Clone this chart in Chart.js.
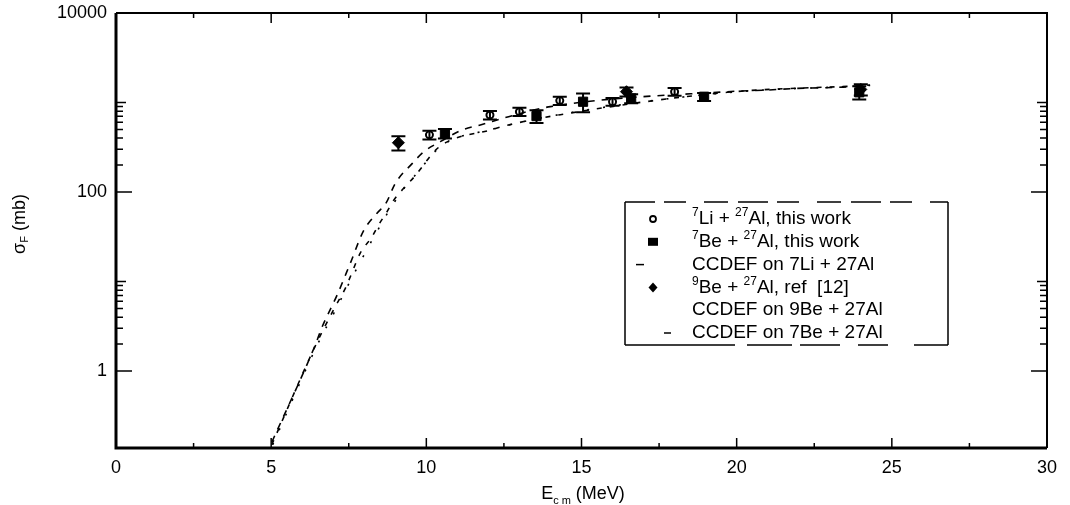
<!DOCTYPE html>
<html>
<head>
<meta charset="utf-8">
<script src="https://cdn.jsdelivr.net/npm/chart.js@4.4.1/dist/chart.umd.min.js"></script>
<style>
  html, body { margin: 0; padding: 0; background: #fff; }
  canvas { display: block; }
</style>
</head>
<body>
<canvas id="chart" width="1070" height="505" style="width:1070px;height:505px"></canvas>
<script>
// values (E in MeV, sigma in mb)
const li7E = [10.1, 12.05, 13.0, 14.3, 16.0, 18.0];
const li7Sig = [435, 725, 790, 1050, 1020, 1320];
const li7Err = [50, 80, 85, 110, 100, 130];

const be7E = [10.6, 13.55, 15.05, 16.6, 18.95, 23.95];
const be7Sig = [450, 705, 1020, 1110, 1160, 1300];
const be7Err = [55, 115, 240, 130, 120, 220];

const be9E = [9.1, 16.45, 24.0];
const be9Sig = [355, 1320, 1400];
const be9Err = [65, 150, 200];

// CCDEF calculations
const ccLiE = [5.02, 6.42, 6.64, 7.12, 7.55, 7.98, 8.41, 8.7, 9.0, 9.55, 9.91, 10.45, 11.15, 11.74, 12.65, 14.0, 19.68, 21.03, 21.96, 23.3, 24.3];
const ccLiSig = [0.16, 1.95, 3.1, 7.0, 16, 37, 58, 75, 125, 209, 280, 365, 493, 561, 694, 900, 1320, 1380, 1440, 1480, 1570];

const ccBe7E = [5.02, 6.42, 7.06, 7.39, 7.55, 7.87, 8.25, 8.46, 8.73, 8.95, 9.27, 9.59, 10.42, 12.06, 12.65, 14.32, 19.7, 24.3];
const ccBe7Sig = [0.15, 1.9, 5.2, 8.4, 11.3, 20.7, 31.7, 42.8, 60, 81, 110, 145, 320, 493, 561, 731, 1300, 1550];

const ccBe9E = [5.05, 6.5, 7.1, 7.6, 8.3, 8.8, 9.3, 9.6, 10.5, 12.1, 14.3, 19.7, 24.3];
const ccBe9Sig = [0.15, 2.0, 5.0, 11, 31, 62, 112, 148, 330, 500, 735, 1290, 1540];

// axis ticks
const xTicks = [0, 5, 10, 15, 20, 25, 30];
const xMinor = [2.5, 7.5, 12.5, 17.5, 22.5, 27.5];
const yLabels = [1, 100, 10000];
const yMid = [10, 1000];
const yMinor = [2, 3, 4, 5, 6, 7, 8, 9, 200, 300, 400, 500, 600, 700, 800, 900];

const FONT = '"Liberation Sans", Arial, Helvetica, sans-serif';

function pts(xs, ys) {
  return xs.map((x, i) => ({ x, y: ys[i] }));
}

// error bars drawn through the chart scales
const errorBars = {
  id: 'errorBars',
  afterDatasetsDraw(chart) {
    const { ctx, scales: { x, y } } = chart;
    ctx.save();
    ctx.strokeStyle = '#000';
    ctx.lineWidth = 2;
    chart.data.datasets.forEach(ds => {
      if (!ds.errors) return;
      ds.data.forEach((p, i) => {
        const px = x.getPixelForValue(p.x);
        const t = y.getPixelForValue(p.y + ds.errors[i]);
        const b = y.getPixelForValue(p.y - ds.errors[i]);
        ctx.beginPath();
        ctx.moveTo(px, t); ctx.lineTo(px, b);
        ctx.moveTo(px - 7, t); ctx.lineTo(px + 7, t);
        ctx.moveTo(px - 7, b); ctx.lineTo(px + 7, b);
        ctx.stroke();
      });
    });
    ctx.restore();
  }
};

function drawParts(ctx, parts, x, y) {
  parts.forEach(([t, s, dy]) => {
    ctx.font = s + 'px ' + FONT;
    ctx.fillText(t, x, y + dy);
    x += ctx.measureText(t).width;
  });
}
function partsWidth(ctx, parts) {
  let w = 0;
  parts.forEach(([t, s]) => { ctx.font = s + 'px ' + FONT; w += ctx.measureText(t).width; });
  return w;
}

// frame, inward tick marks, axis titles with sub/superscripts, legend box
const decorations = {
  id: 'decorations',
  afterDraw(chart) {
    const { ctx, chartArea: a, scales: { x, y } } = chart;
    ctx.save();
    ctx.strokeStyle = '#000';
    ctx.fillStyle = '#000';

    // frame
    ctx.lineWidth = 3;
    ctx.beginPath();
    ctx.moveTo(a.left, a.top); ctx.lineTo(a.left, a.bottom); ctx.lineTo(a.right, a.bottom);
    ctx.stroke();
    ctx.lineWidth = 2;
    ctx.beginPath();
    ctx.moveTo(a.left, a.top); ctx.lineTo(a.right, a.top); ctx.lineTo(a.right, a.bottom);
    ctx.stroke();

    // ticks
    ctx.lineWidth = 1.5;
    const vTick = (v, len) => {
      const py = y.getPixelForValue(v);
      ctx.beginPath();
      ctx.moveTo(a.left, py); ctx.lineTo(a.left + len, py);
      ctx.moveTo(a.right, py); ctx.lineTo(a.right - len, py);
      ctx.stroke();
    };
    const hTick = (v, len) => {
      const px = x.getPixelForValue(v);
      ctx.beginPath();
      ctx.moveTo(px, a.bottom); ctx.lineTo(px, a.bottom - len);
      ctx.moveTo(px, a.top); ctx.lineTo(px, a.top + len);
      ctx.stroke();
    };
    yLabels.forEach(v => vTick(v, 16));
    yMid.forEach(v => vTick(v, 10));
    yMinor.forEach(v => vTick(v, 7));
    xTicks.forEach(v => hTick(v, 10));
    xMinor.forEach(v => hTick(v, 5));

    // y title
    ctx.save();
    ctx.translate(20, 224);
    ctx.rotate(-Math.PI / 2);
    ctx.textBaseline = 'middle';
    const yParts = [['σ', 18, 0], ['F', 11, 5], [' (mb)', 18, 0]];
    drawParts(ctx, yParts, -partsWidth(ctx, yParts) / 2, 0);
    ctx.restore();

    // x title
    ctx.textBaseline = 'alphabetic';
    const xParts = [['E', 18, 0], ['c m', 11, 5], [' (MeV)', 18, 0]];
    drawParts(ctx, xParts, 583 - partsWidth(ctx, xParts) / 2, 499);

    // legend box (broken outline)
    const L = 625, R = 948, T = 202, B = 345;
    ctx.lineWidth = 1.5;
    ctx.beginPath();
    ctx.moveTo(L, T); ctx.lineTo(L, B);
    ctx.moveTo(R, T); ctx.lineTo(R, B);
    ctx.stroke();
    ctx.setLineDash([30, 9, 22, 18, 24, 10]);
    ctx.beginPath();
    ctx.moveTo(L, T); ctx.lineTo(R, T);
    ctx.stroke();
    ctx.setLineDash([110, 12, 45, 8, 40, 18, 30, 26]);
    ctx.beginPath();
    ctx.moveTo(L, B); ctx.lineTo(R, B);
    ctx.stroke();
    ctx.setLineDash([]);

    const rows = [
      [['7', 12, -6], ['Li + ', 19, 0], ['27', 12, -6], ['Al, this work', 19, 0]],
      [['7', 12, -6], ['Be + ', 19, 0], ['27', 12, -6], ['Al, this work', 19, 0]],
      [['CCDEF on 7Li + 27Al', 19, 0]],
      [['9', 12, -6], ['Be + ', 19, 0], ['27', 12, -6], ['Al, ref  [12]', 19, 0]],
      [['CCDEF on 9Be + 27Al', 19, 0]],
      [['CCDEF on 7Be + 27Al', 19, 0]]
    ];
    const rowY = T + 17;
    const step = 22.8;
    ctx.textBaseline = 'middle';
    rows.forEach((parts, r) => drawParts(ctx, parts, 692, rowY + r * step));

    const sx = 653;
    // open circle
    ctx.lineWidth = 1.8;
    ctx.beginPath(); ctx.arc(sx, rowY, 3, 0, Math.PI * 2); ctx.stroke();
    // filled square
    ctx.fillRect(sx - 5, rowY + step - 4, 10, 8);
    // dash for 7Li calc
    ctx.lineWidth = 1.5;
    ctx.beginPath(); ctx.moveTo(636, rowY + 2 * step); ctx.lineTo(644, rowY + 2 * step); ctx.stroke();
    // diamond
    ctx.beginPath();
    ctx.moveTo(sx, rowY + 3 * step - 5); ctx.lineTo(sx + 4.5, rowY + 3 * step);
    ctx.lineTo(sx, rowY + 3 * step + 5); ctx.lineTo(sx - 4.5, rowY + 3 * step);
    ctx.closePath(); ctx.fill();
    // dash for 7Be calc
    ctx.beginPath(); ctx.moveTo(664, rowY + 5 * step); ctx.lineTo(671, rowY + 5 * step); ctx.stroke();

    ctx.restore();
  }
};

const curve = (data, dash) => ({
  data,
  showLine: true,
  borderColor: '#000',
  borderWidth: 1.6,
  borderDash: dash,
  pointRadius: 0,
  cubicInterpolationMode: 'monotone',
  fill: false
});

new Chart(document.getElementById('chart'), {
  type: 'scatter',
  data: {
    datasets: [
      curve(pts(ccLiE, ccLiSig), [7, 7]),
      curve(pts(ccBe7E, ccBe7Sig), [5, 8]),
      curve(pts(ccBe9E, ccBe9Sig), [2, 14]),
      {
        data: pts(li7E, li7Sig), errors: li7Err,
        pointStyle: 'circle', pointRadius: 3.5, borderWidth: 2,
        borderColor: '#000', backgroundColor: '#fff'
      },
      {
        data: pts(be7E, be7Sig), errors: be7Err,
        pointStyle: 'rect', pointRadius: 6.5, borderWidth: 1,
        borderColor: '#000', backgroundColor: '#000'
      },
      {
        data: pts(be9E, be9Sig), errors: be9Err,
        pointStyle: 'rectRot', pointRadius: 6, borderWidth: 1,
        borderColor: '#000', backgroundColor: '#000'
      }
    ]
  },
  options: {
    responsive: false,
    animation: false,
    devicePixelRatio: 1,
    layout: { padding: { top: 13, right: 23, left: 0, bottom: 0 } },
    plugins: { legend: { display: false }, tooltip: { enabled: false } },
    scales: {
      x: {
        type: 'linear', min: 0, max: 30,
        afterBuildTicks: s => { s.ticks = xTicks.map(v => ({ value: v })); },
        ticks: { color: '#000', padding: 9, maxRotation: 0, font: { family: FONT, size: 18 } },
        grid: { display: false, drawTicks: false },
        border: { display: false },
        afterFit: s => { s.height = 57; s.paddingLeft = 0; s.paddingRight = 0; }
      },
      y: {
        type: 'logarithmic', min: 0.138, max: 10000,
        afterBuildTicks: s => { s.ticks = yLabels.map(v => ({ value: v })); },
        ticks: { color: '#000', padding: 9, font: { family: FONT, size: 18 }, callback: v => String(v) },
        grid: { display: false, drawTicks: false },
        border: { display: false },
        afterFit: s => { s.width = 116; s.paddingTop = 0; s.paddingBottom = 0; }
      }
    }
  },
  plugins: [errorBars, decorations]
});
</script>
</body>
</html>
